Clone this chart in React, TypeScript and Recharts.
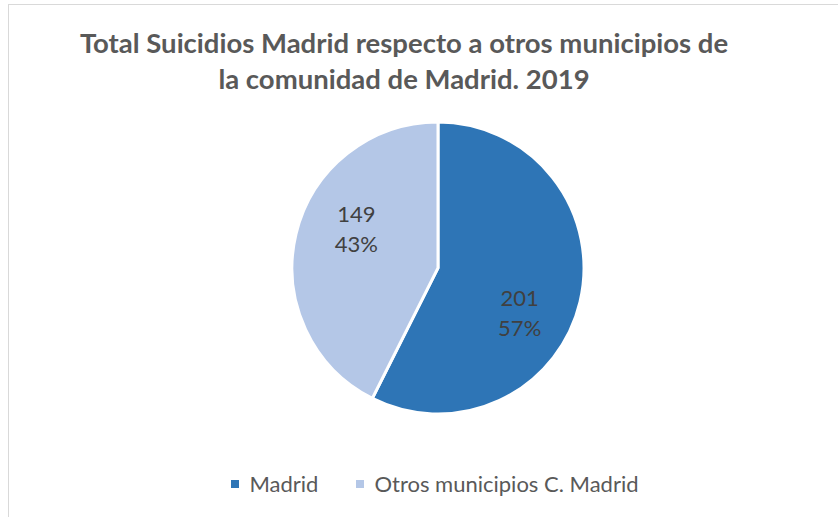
import { PieChart, Pie, Cell } from "recharts";

const categories = ["Madrid", "Otros municipios C. Madrid"];
const values = [201, 149];
const colors = ["#2E75B6", "#B4C7E7"];
const titleLines = [
  "Total Suicidios Madrid respecto a otros municipios de",
  "la comunidad de Madrid. 2019",
];

const data = categories.map((name, i) => ({ name, value: values[i] }));
const total = values.reduce((a, b) => a + b, 0);

const FONT = "Lato, 'Open Sans', sans-serif";
const RAD = Math.PI / 180;

function renderLabel(props: any) {
  const { cx, cy, midAngle, outerRadius, value } = props;
  // Excel "best fit" sits a bit clockwise of the slice middle
  const angle = midAngle - 14;
  const r = outerRadius * 0.63;
  const x = cx + r * Math.cos(-angle * RAD);
  const y = cy + r * Math.sin(-angle * RAD);
  const pct = Math.round((value / total) * 100);
  return (
    <text
      x={x}
      y={y}
      textAnchor="middle"
      fill="#404040"
      fontSize={22}
      fontFamily={FONT}
    >
      <tspan x={x} dy={-4}>
        {value}
      </tspan>
      <tspan x={x} dy={30}>
        {pct}%
      </tspan>
    </text>
  );
}

export default function App() {
  return (
    <div
      style={{
        position: "fixed",
        left: 0,
        top: 0,
        width: 838,
        height: 517,
        overflow: "hidden",
        background: "#fff",
        fontFamily: FONT,
      }}
    >
      <div
        style={{
          position: "absolute",
          left: 8,
          top: 4,
          width: 900,
          height: 600,
          borderLeft: "1.5px solid #d9d9d9",
          borderTop: "1.5px solid #d9d9d9",
        }}
      />
      <div
        style={{
          position: "absolute",
          left: 0,
          top: 25,
          width: 808,
          textAlign: "center",
          fontWeight: 700,
          fontSize: 27.5,
          lineHeight: "36px",
          color: "#595959",
        }}
      >
        {titleLines.map((t) => (
          <div key={t}>{t}</div>
        ))}
      </div>
      <PieChart
        width={838}
        height={517}
        style={{ position: "absolute", left: 0, top: 0 }}
      >
        <Pie
          data={data}
          dataKey="value"
          nameKey="name"
          cx={433}
          cy={263}
          outerRadius={146}
          startAngle={90}
          endAngle={-270}
          stroke="#ffffff"
          strokeWidth={3}
          label={renderLabel}
          labelLine={false}
          isAnimationActive={false}
        >
          {data.map((d, i) => (
            <Cell key={d.name} fill={colors[i]} />
          ))}
        </Pie>
      </PieChart>
      <div
        style={{
          position: "absolute",
          left: 0,
          top: 470,
          width: 870,
          display: "flex",
          justifyContent: "center",
          alignItems: "center",
          fontSize: 22,
          color: "#595959",
        }}
      >
        {categories.map((c, i) => (
          <div
            key={c}
            style={{
              display: "flex",
              alignItems: "center",
              marginRight: i === 0 ? 38 : 0,
            }}
          >
            <span
              style={{
                width: 8,
                height: 8,
                background: colors[i],
                marginRight: 10,
                display: "inline-block",
              }}
            />
            <span>{c}</span>
          </div>
        ))}
      </div>
    </div>
  );
}
